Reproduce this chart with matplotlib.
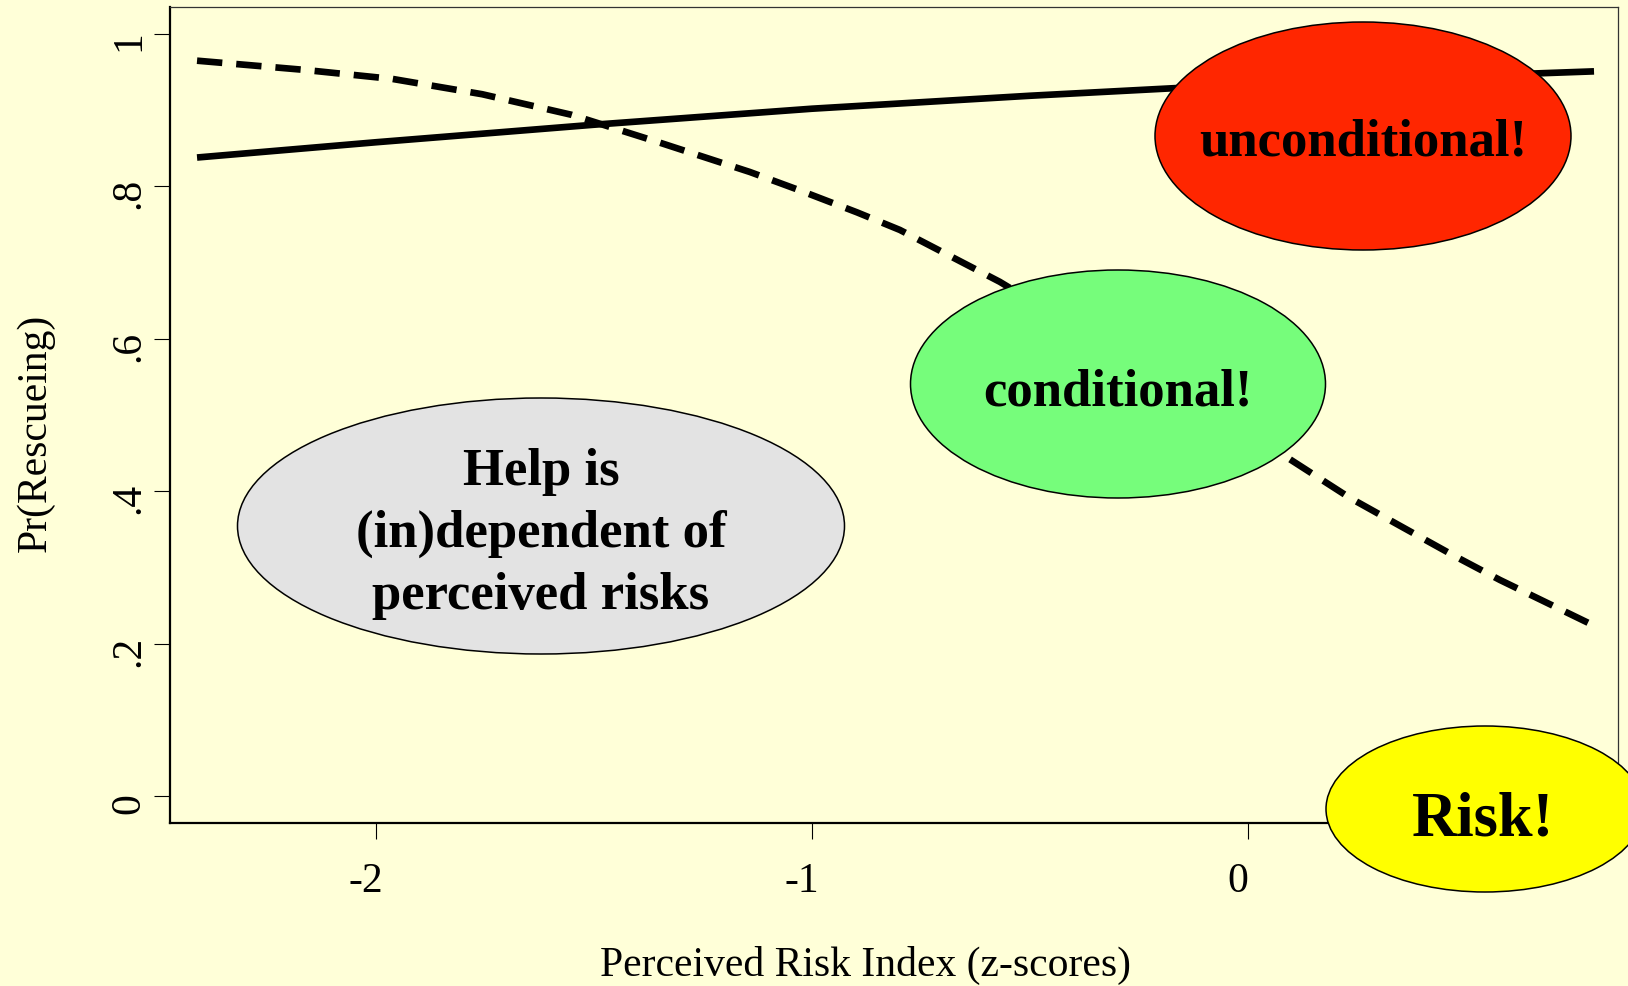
import matplotlib
matplotlib.use("Agg")
import matplotlib.pyplot as plt
from matplotlib.patches import Ellipse
from matplotlib.transforms import ScaledTranslation

# ---- data ----
x_solid = [-2.41, -2.0, -1.5, -1.0, -0.5, 0.0, 0.5, 0.794]
y_solid = [0.838, 0.858, 0.881, 0.902, 0.919, 0.934, 0.945, 0.951]

x_dash = [-2.41, -2.165, -1.961, -1.756, -1.551, -1.346, -1.142, -1.028,
          -0.896, -0.798, -0.569, -0.25, 0.089, 0.233, 0.349, 0.472, 0.578, 0.794]
y_dash = [0.965, 0.953, 0.941, 0.921, 0.894, 0.857, 0.819, 0.795,
          0.766, 0.743, 0.675, 0.565, 0.445, 0.392, 0.355, 0.316, 0.284, 0.224]

x_ticks = [-2, -1, 0]
x_ticklabels = ["-2", "-1", "0"]
y_ticks = [0, 0.2, 0.4, 0.6, 0.8, 1.0]
y_ticklabels = ["0", ".2", ".4", ".6", ".8", "1"]

xlabel = "Perceived Risk Index (z-scores)"
ylabel = "Pr(Rescueing)"

bubbles = [
    # text, center px (x, y from top), width px, height px, face colour, fontsize, text center px, linespacing
    ("unconditional!", (1363, 136), 416, 228, "#FF2600", 38, (1363, 142), 1.2),
    ("conditional!", (1118, 384), 415, 228, "#76FD7B", 38, (1118, 392), 1.2),
    ("Help is\n(in)dependent of\nperceived risks", (541, 526), 607, 256, "#E3E3E3", 38, (541, 534), 1.37),
    ("Risk!", (1485, 809), 318, 166, "#FFFF00", 45, (1483, 820), 1.2),
]

BG = "#FFFFD8"
W, H = 1628, 986

plt.rcParams["font.family"] = ["Liberation Serif", "DejaVu Serif"]

fig = plt.figure(figsize=(W / 100, H / 100), dpi=100, facecolor=BG)
ax = fig.add_axes([170 / W, 1 - 823 / H, (1618 - 170) / W, (823 - 6.7) / H])
ax.set_facecolor(BG)

ax.plot(x_solid, y_solid, color="black", lw=4.8, solid_capstyle="butt")
ax.plot(x_dash, y_dash, color="black", lw=4.8, linestyle=(0, (3.8, 2.1)),
        dash_capstyle="butt")

ax.set_xlim(-2.472, 0.849)
ax.set_ylim(-0.0348, 1.0358)

ax.set_xticks(x_ticks)
ax.set_xticklabels(x_ticklabels, fontsize=30)
ax.set_yticks(y_ticks)
ax.set_yticklabels(y_ticklabels, fontsize=30, rotation=90, va="center")

ax.tick_params(axis="x", length=11.5, width=0.8, pad=17, colors="black")
ax.tick_params(axis="y", length=11.5, width=0.8, pad=4, colors="black")

offx = ScaledTranslation(-10 / 100, 0, fig.dpi_scale_trans)
for lab in ax.get_xticklabels():
    lab.set_transform(lab.get_transform() + offx)
offy = ScaledTranslation(0, -7 / 100, fig.dpi_scale_trans)
for lab in ax.get_yticklabels():
    lab.set_transform(lab.get_transform() + offy)

for s in ["left", "bottom"]:
    ax.spines[s].set_linewidth(1.6)
    ax.spines[s].set_color("black")
for s in ["top", "right"]:
    ax.spines[s].set_linewidth(0.9)
    ax.spines[s].set_color("#333333")

fig.text(865 / W, 1 - 965 / H, xlabel, ha="center", va="center", fontsize=30)
fig.text(36 / W, 1 - 433 / H, ylabel, ha="center", va="center", fontsize=30,
         rotation=90)

for txt, (cx, cy), ew, eh, fc, fs, (tx, ty), ls in bubbles:
    e = Ellipse((cx / W, 1 - cy / H), ew / W, eh / H, facecolor=fc,
                edgecolor="black", lw=1.1, transform=fig.transFigure, zorder=2)
    fig.add_artist(e)
    fig.text(tx / W, 1 - ty / H, txt, ha="center", va="center", fontsize=fs,
             fontweight="bold", linespacing=ls, zorder=3)

fig.savefig("out.png", dpi=100, facecolor=BG)
